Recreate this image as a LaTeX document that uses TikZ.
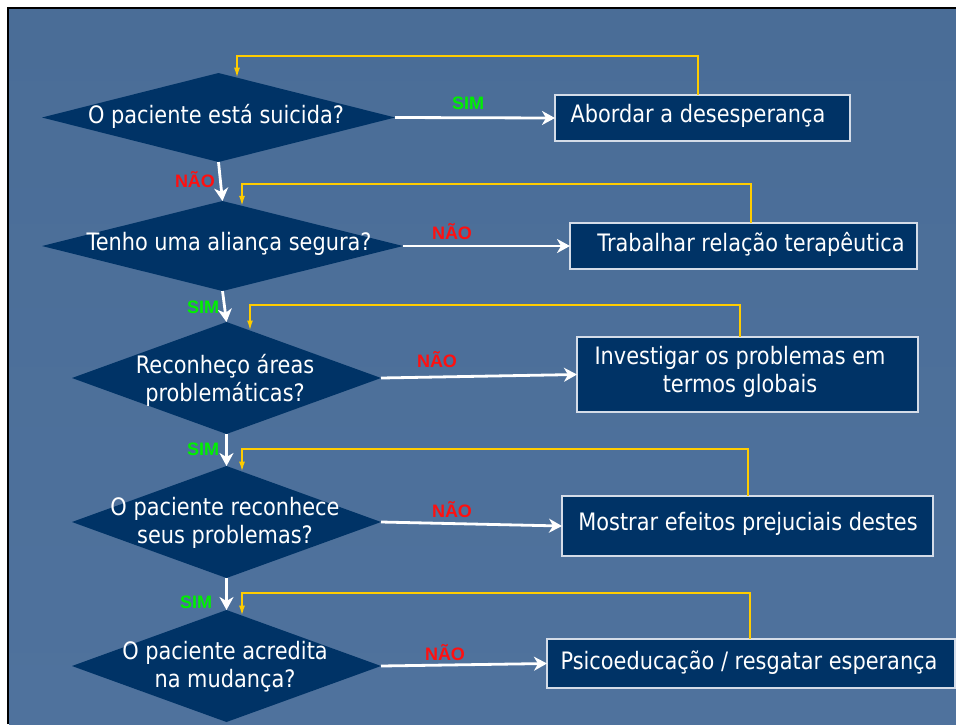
\documentclass[tikz,border=0pt]{standalone}
\usepackage{fontspec}
\setmainfont{DejaVu Sans}[FakeStretch=0.87]
\newfontfamily\lblfont{Liberation Sans}
\usetikzlibrary{shapes.geometric,arrows.meta,calc}
\definecolor{navy}{HTML}{003366}
\definecolor{bgtop}{HTML}{4A6D97}
\definecolor{bgmid}{HTML}{5E84B1}
\definecolor{bgbot}{HTML}{4F729D}
\definecolor{boxline}{HTML}{D4DCE8}
\definecolor{fbyellow}{HTML}{FFCC00}
\definecolor{simgreen}{HTML}{00F000}
\definecolor{naored}{HTML}{FF1010}
\begin{document}
\begin{tikzpicture}[x=1pt,y=-1pt,
  dia/.style={shape=diamond,fill=navy,inner sep=0,outer sep=0},
  boxn/.style={draw=boxline,line width=1.2pt,fill=navy,inner sep=0,outer sep=0},
  txt/.style={text=white,font=\fontsize{24}{28}\selectfont,align=center,inner sep=0},
  fb/.style={draw=fbyellow,line width=1.7pt,-{Latex[length=10pt,width=6pt]}},
  flow/.style={draw=white,line width=2.8pt,-{Stealth[length=13pt,width=14pt,inset=4pt]}},
  yes/.style={text=simgreen,font=\lblfont\bfseries\fontsize{18}{20}\selectfont,inner sep=0},
  no/.style={text=naored,font=\lblfont\bfseries\fontsize{18}{20}\selectfont,inner sep=0}]
\useasboundingbox (0,0) rectangle (956,724);
\fill[white] (0,0) rectangle (956,724);
\shade[top color=bgtop,middle color=bgmid,bottom color=bgbot] (9,9) rectangle (956,724);
\draw[black,line width=2.2pt] (8,724) -- (8,8) -- (956,8);

% diamonds
\node[dia,minimum width=353pt,minimum height=89pt] (D1) at (218.5,117.5) {};
\node[dia,minimum width=361pt,minimum height=90pt] (D2) at (222.5,246) {};
\node[dia,minimum width=309pt,minimum height=112pt] (D3) at (226.5,378) {};
\node[dia,minimum width=309pt,minimum height=112pt] (D4) at (226.5,522) {};
\node[dia,minimum width=309pt,minimum height=112pt] (D5) at (226.5,666) {};

\node[txt] (T1) at (216,116) {O paciente está suicida?};
\node[txt] (T2) at (229,244) {Tenho uma aliança segura?};
\node[txt] (T3) at (225,380) {Reconheço áreas\\problemáticas?};
\node[txt] (T4) at (225,523) {O paciente reconhece\\seus problemas?};
\node[txt] (T5) at (225,667) {O paciente acredita\\na mudança?};

% boxes
\node[boxn,minimum width=295pt,minimum height=46pt] (B1) at (702.5,118) {};
\node[boxn,minimum width=347pt,minimum height=46pt] (B2) at (743.5,246) {};
\node[boxn,minimum width=341pt,minimum height=75pt] (B3) at (747.5,374.5) {};
\node[boxn,minimum width=371pt,minimum height=60pt] (B4) at (747.5,526) {};
\node[boxn,minimum width=408pt,minimum height=49pt] (B5) at (751,663.5) {};

\node[txt] (U1) at (698,116) {Abordar a desesperança};
\node[txt] (U2) at (751,244) {Trabalhar relação terapêutica};
\node[txt] (U3) at (740,372) {Investigar os problemas em\\termos globais};
\node[txt] (U4) at (748,524) {Mostrar efeitos prejuciais destes};
\node[txt] (U5) at (749,663) {Psicoeducação / resgatar esperança};

% downward flow
\draw[flow] (D1.south) -- (D2.north);
\draw[flow] (D2.south) -- (D3.north);
\draw[flow] (D3.south) -- (D4.north);
\draw[flow] (D4.south) -- (D5.north);

% right flow
\draw[flow] (D1.east) -- (B1.west);
\draw[flow] (D2.east) -- (B2.west);
\draw[flow] (D3.east) -- (B3.west);
\draw[flow] (D4.east) -- (B4.west);
\draw[flow] (D5.east) -- (B5.west);

% feedback
\draw[fb] ([xshift=143pt]B1.north west) |- (237,56) -- ($(D1.north)+(18.5,4.7)$);
\draw[fb] ([xshift=181pt]B2.north west) |- (242,184) -- ($(D2.north)+(19.5,4.9)$);
\draw[fb] ([xshift=163pt]B3.north west) |- (250,305) -- ($(D3.north)+(23.5,8.5)$);
\draw[fb] ([xshift=186pt]B4.north west) |- (242,449) -- ($(D4.north)+(15.5,5.6)$);
\draw[fb] ([xshift=203pt]B5.north west) |- (242,593) -- ($(D5.north)+(15.5,5.6)$);

% labels
\node[yes] (L1) at (468,103) {SIM};
\node[no]  (L2) at (195,180) {NÃO};
\node[no]  (L3) at (452,232) {NÃO};
\node[yes] (L4) at (203,307) {SIM};
\node[no]  (L5) at (437,360) {NÃO};
\node[yes] (L6) at (203,449) {SIM};
\node[no]  (L7) at (452,510) {NÃO};
\node[yes] (L8) at (196,602) {SIM};
\node[no]  (L9) at (445,653) {NÃO};
\end{tikzpicture}
\end{document}
